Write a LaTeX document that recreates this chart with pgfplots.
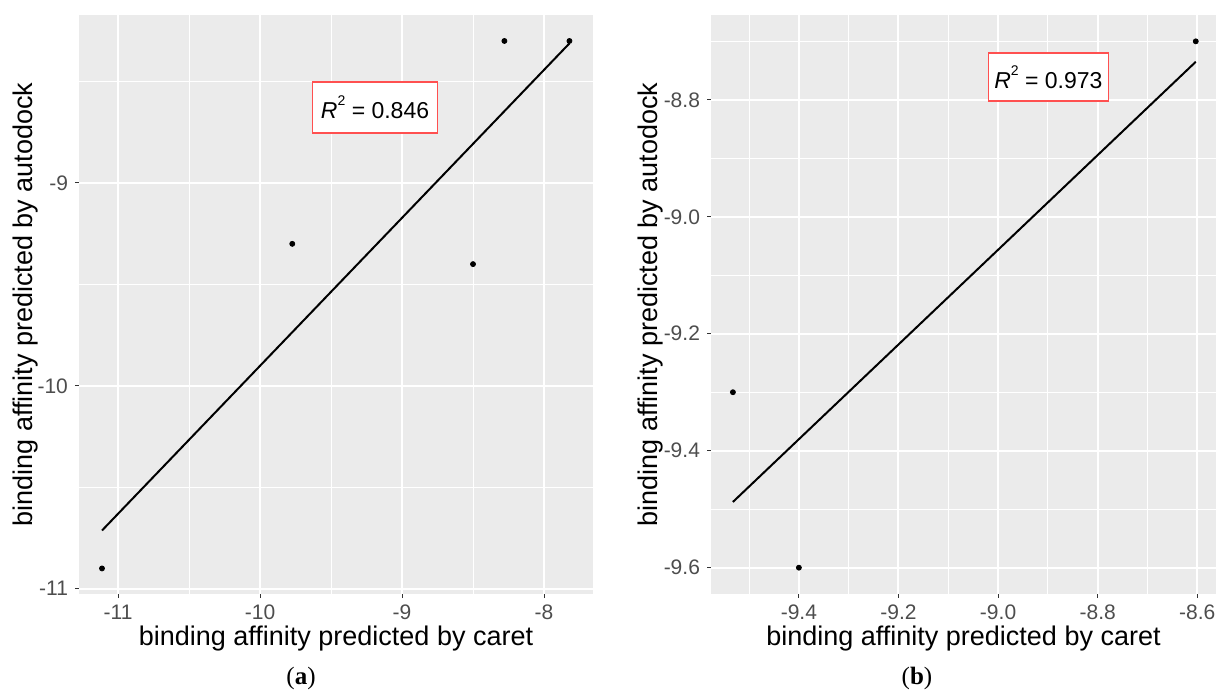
\documentclass[border=0pt]{standalone}
\usepackage{pgfplots}
\pgfplotsset{compat=1.18}
\usepackage{fontspec}
\setmainfont{Liberation Sans}
\newfontfamily\capfont{Liberation Serif}
\definecolor{panelbg}{HTML}{EBEBEB}
\definecolor{ticklab}{HTML}{4D4D4D}
\definecolor{tickcol}{HTML}{333333}
\definecolor{boxred}{HTML}{FF5050}

\newcommand{\Rsq}{\textit{R}\raisebox{6.5pt}{\fontsize{7}{7}\selectfont 2}}

\pgfplotsset{
  gg/.style={
    scale only axis,
    height=289.5pt,
    anchor=south west,
    axis background/.style={fill=panelbg},
    axis line style={draw=none},
    grid=both,
    major grid style={white, line width=1pt},
    minor grid style={white, line width=0.5pt},
    tick align=outside,
    major tick length=2pt,
    minor tick length=0pt,
    tick style={tickcol, line width=0.5pt},
    xtick pos=bottom, ytick pos=left,
    ticklabel style={font=\fontsize{10.5}{12}\selectfont, text=ticklab},
    every axis x label/.style={at={(rel axis cs:0.5,0)}, anchor=base, yshift=-25.5pt,
      font=\fontsize{13.5}{16}\selectfont},
    xlabel={binding affinity predicted by caret},
    ylabel={binding affinity predicted by autodock},
  },
}
\tikzset{
  r2/.style={draw=boxred, fill=white, line width=0.6pt, inner sep=0pt,
    font=\fontsize{11.5}{13}\selectfont},
}

\begin{document}
\begin{tikzpicture}
\path[use as bounding box] (0,0) rectangle (608pt,345.5pt);

% panel (a)
\begin{axis}[gg,
  at={(39.5pt,48.5pt)}, width=257pt,
  xmin=-11.275, xmax=-7.655, ymin=-11.026, ymax=-8.172,
  xtick={-11,-10,-9,-8}, xticklabels={-11,-10,-9,-8},
  ytick={-11,-10,-9}, yticklabels={-11,-10,-9},
  minor xtick={-10.5,-9.5,-8.5}, minor ytick={-10.5,-9.5,-8.5},
  every axis y label/.style={at={(rel axis cs:0,0.5)}, anchor=center,
    xshift=-26.6pt, rotate=90, font=\fontsize{13.5}{16}\selectfont},
]
\addplot[black, line width=1pt] coordinates {(-11.113,-10.713) (-7.821,-8.312)};
\addplot[only marks, mark=*, mark size=1.25pt, black] coordinates {
  (-11.113,-10.90) (-9.773,-9.30) (-8.50,-9.40) (-8.279,-8.30) (-7.821,-8.30)};
\node[r2, minimum width=62.5pt, minimum height=25.5pt] at (axis cs:-9.19,-8.628)
  {\Rsq{} = 0.846};
\end{axis}

% panel (b)
\begin{axis}[gg,
  at={(355.5pt,48.5pt)}, width=252.5pt,
  xmin=-9.5765, xmax=-8.5624, ymin=-9.645, ymax=-8.655,
  xtick={-9.4,-9.2,-9.0,-8.8,-8.6}, xticklabels={-9.4,-9.2,-9.0,-8.8,-8.6},
  ytick={-9.6,-9.4,-9.2,-9.0,-8.8}, yticklabels={-9.6,-9.4,-9.2,-9.0,-8.8},
  minor xtick={-9.5,-9.3,-9.1,-8.9,-8.7}, minor ytick={-9.5,-9.3,-9.1,-8.9,-8.7},
  every axis y label/.style={at={(rel axis cs:0,0.5)}, anchor=center,
    xshift=-30pt, rotate=90, font=\fontsize{13.5}{16}\selectfont},
]
\addplot[black, line width=1pt] coordinates {(-9.5325,-9.4876) (-8.603,-8.735)};
\addplot[only marks, mark=*, mark size=1.25pt, black] coordinates {
  (-9.5325,-9.30) (-9.40,-9.60) (-8.603,-8.70)};
\node[r2, minimum width=60pt, minimum height=24pt] at (axis cs:-8.899,-8.761)
  {\Rsq{} = 0.973};
\end{axis}

\node[font=\capfont\fontsize{12.5}{14}\selectfont, anchor=base] at (150.5pt,3pt) {(\textbf{a})};
\node[font=\capfont\fontsize{12.5}{14}\selectfont, anchor=base] at (458.5pt,3pt) {(\textbf{b})};
\end{tikzpicture}
\end{document}
